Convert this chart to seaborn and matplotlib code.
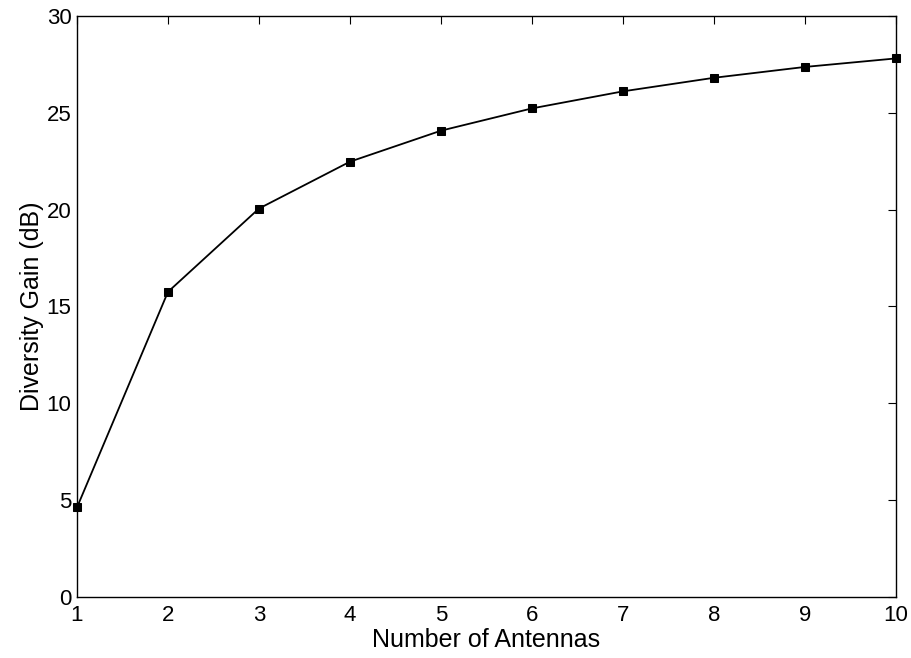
import pandas as pd
import matplotlib
matplotlib.use('Agg')
import matplotlib.pyplot as plt
import seaborn as sns

# ── Data ──────────────────────────────────────────────────────────────────────
antennas = [1, 2, 3, 4, 5, 6, 7, 8, 9, 10]
gain_db = [4.62, 15.75, 20.05, 22.47, 24.07, 25.22, 26.1, 26.8, 27.36, 27.8]
x_ticks = [1, 2, 3, 4, 5, 6, 7, 8, 9, 10]
y_ticks = [0, 5, 10, 15, 20, 25, 30]

df = pd.DataFrame({'antennas': antennas, 'gain': gain_db})

# ── Plot ──────────────────────────────────────────────────────────────────────
sns.set_style('white')
plt.rcParams['font.family'] = ['Liberation Sans', 'DejaVu Sans']
plt.rcParams['text.color'] = 'black'
plt.rcParams['axes.labelcolor'] = 'black'

fig = plt.figure(figsize=(9.12, 6.58), dpi=100)
ax = fig.add_axes([0.0844, 0.0927, 0.898, 0.8833])

sns.lineplot(data=df, x='antennas', y='gain', color='black', linewidth=1.3,
             marker='s', markersize=6, markeredgecolor='black', ax=ax,
             clip_on=False, zorder=3)

ax.set_xlim(1, 10)
ax.set_ylim(0, 30)
ax.set_xticks(x_ticks)
ax.set_yticks(y_ticks)
ax.tick_params(direction='in', length=6, width=0.8, top=True, right=True,
               labelsize=16, colors='black', pad=4)
ax.tick_params(axis='x', pad=6)
for s in ax.spines.values():
    s.set_visible(True)
    s.set_color('black')
    s.set_linewidth(1.0)

ax.set_xlabel('Number of Antennas', fontsize=18, labelpad=1)
ax.set_ylabel('Diversity Gain (dB)', fontsize=18, labelpad=2)

plt.savefig('out.png', dpi=100)
plt.close()
